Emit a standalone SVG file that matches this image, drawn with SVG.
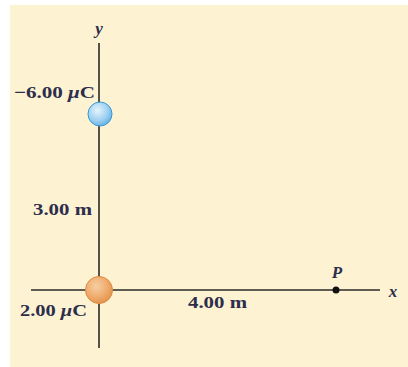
<svg xmlns="http://www.w3.org/2000/svg" width="408" height="367" viewBox="0 0 408 367">
<defs>
<radialGradient id="gBlue" cx="0.4" cy="0.35" r="0.7">
<stop offset="0" stop-color="#e6f4fd"/>
<stop offset="0.6" stop-color="#9fd1f1"/>
<stop offset="1" stop-color="#5fb0e2"/>
</radialGradient>
<radialGradient id="gOrange" cx="0.4" cy="0.35" r="0.7">
<stop offset="0" stop-color="#f7cfa2"/>
<stop offset="0.6" stop-color="#eeab6c"/>
<stop offset="1" stop-color="#e2914a"/>
</radialGradient>
<style>
.t{font-family:"Liberation Serif","Times New Roman",serif;font-size:17px;font-weight:bold;fill:#2c2e4c;}
.i{font-style:italic;}
.ax{stroke:#2a2a2a;stroke-width:1.6;fill:none;}
</style>
</defs>
<rect x="10" y="5" width="398" height="362" fill="#fdf2d2"/>
<g id="connectors">
<line class="ax" x1="99" y1="43" x2="99" y2="348"/>
<line class="ax" x1="31" y1="290" x2="380" y2="290"/>
</g>
<g id="yaxis-label"><text class="t i" x="99" y="34" text-anchor="middle" font-size="16" font-weight="normal">y</text></g>
<g id="xaxis-label"><text class="t i" x="393" y="297" text-anchor="middle" font-size="16" font-weight="normal">x</text></g>
<g id="q1">
<circle cx="100" cy="114" r="12" fill="url(#gBlue)" stroke="#3a98d6" stroke-width="1"/>
<text class="t" x="14" y="98" textLength="81" lengthAdjust="spacingAndGlyphs">−6.00 <tspan class="i">μ</tspan>C</text>
</g>
<g id="q2">
<circle cx="99" cy="290" r="13.5" fill="url(#gOrange)" stroke="#e08a3e" stroke-width="1"/>
<text class="t" x="20" y="316" textLength="67" lengthAdjust="spacingAndGlyphs">2.00 <tspan class="i">μ</tspan>C</text>
</g>
<g id="dist-y"><text class="t" x="33" y="215" textLength="59" lengthAdjust="spacingAndGlyphs">3.00 m</text></g>
<g id="dist-x"><text class="t" x="188" y="308" textLength="59" lengthAdjust="spacingAndGlyphs">4.00 m</text></g>
<g id="P">
<circle cx="336" cy="290" r="3.5" fill="#111"/>
<text class="t i" x="337" y="278" text-anchor="middle" font-size="16">P</text>
</g>
</svg>
